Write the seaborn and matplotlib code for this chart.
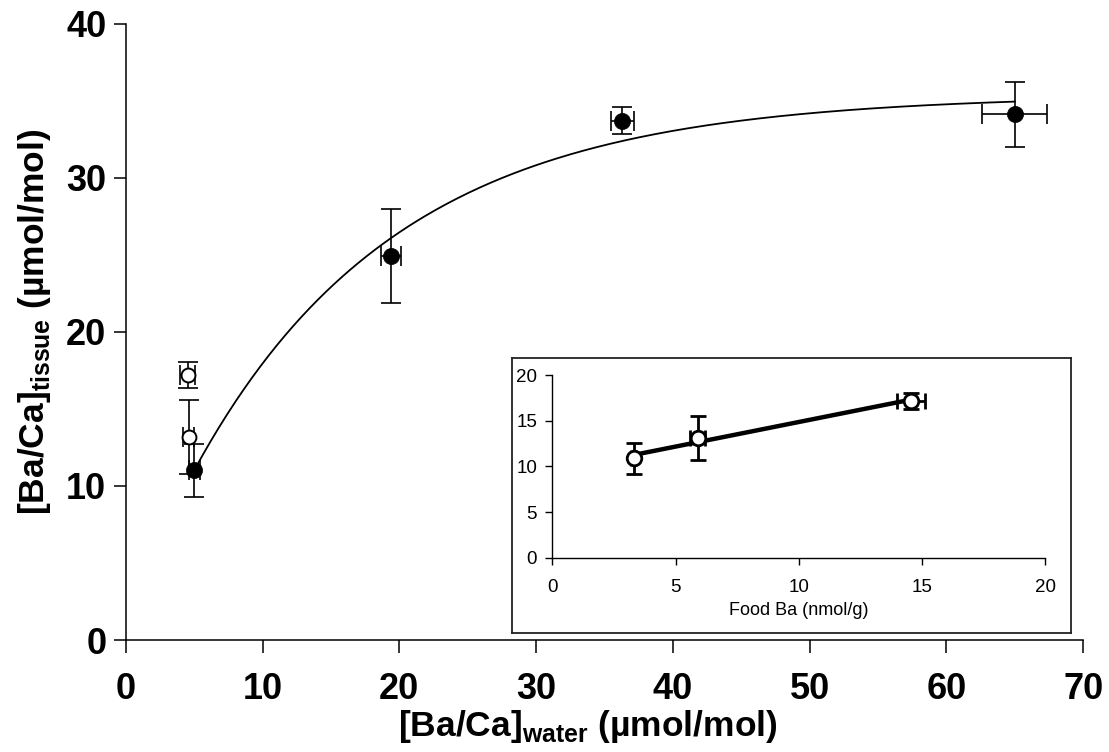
import numpy as np
import pandas as pd
import matplotlib
matplotlib.use("Agg")
import matplotlib.pyplot as plt
import seaborn as sns

# ---------------- data ----------------
water_filled = [5.0, 19.4, 36.3, 65.0]
tissue_filled = [11.0, 24.9, 33.7, 34.1]
tissue_filled_yerr = [1.7, 3.05, 0.9, 2.1]
water_filled_xerr = [0.4, 0.73, 0.85, 2.37]

water_open = [4.6, 4.55]
tissue_open = [13.2, 17.2]
tissue_open_yerr = [2.4, 0.86]
water_open_xerr = [0.4, 0.55]

# saturating fit curve shown in the main panel: y = a - b*exp(-k x)
fit_a, fit_b, fit_k = 35.37, 34.07, 0.067
fit_x_range = [5.0, 65.0]

food_ba = [3.3, 5.9, 14.55]
food_ba_xerr = [0.1, 0.3, 0.56]
tissue_food = [10.9, 13.1, 17.2]
tissue_food_yerr = [1.7, 2.4, 0.88]

main_xticks = [0, 10, 20, 30, 40, 50, 60, 70]
main_yticks = [0, 10, 20, 30, 40]
inset_xticks = [0, 5, 10, 15, 20]
inset_yticks = [0, 5, 10, 15, 20]

# ---------------- style ----------------
sns.set_theme(style="ticks")
plt.rcParams["font.family"] = ["Liberation Sans", "DejaVu Sans"]
plt.rcParams["mathtext.fontset"] = "custom"
plt.rcParams["mathtext.rm"] = "Liberation Sans"
plt.rcParams["mathtext.bf"] = "Liberation Sans:bold"
plt.rcParams["axes.linewidth"] = 1.1

W, H = 1109, 752
fig = plt.figure(figsize=(W / 100, H / 100), dpi=100)
fig.patch.set_facecolor("white")

def fx(px):
    return px / W

def fy(py):
    return (H - py) / H

# main axes: x 0 at 125.7 px, 70 at 1083.3 px; y 0 at 640, 40 at 23.5
ax = fig.add_axes([fx(125.7), fy(640), fx(1083.3) - fx(125.7), fy(23.5) - fy(640)])
ax.set_facecolor("white")

df_filled = pd.DataFrame({"water": water_filled, "tissue": tissue_filled})
df_open = pd.DataFrame({"water": water_open, "tissue": tissue_open})

xs = np.linspace(fit_x_range[0], fit_x_range[1], 300)
df_fit = pd.DataFrame({"water": xs, "tissue": fit_a - fit_b * np.exp(-fit_k * xs)})
sns.lineplot(data=df_fit, x="water", y="tissue", ax=ax, color="black", lw=1.3, zorder=2)

ax.errorbar(water_open, tissue_open, yerr=tissue_open_yerr, xerr=water_open_xerr,
            fmt="none", ecolor="black", elinewidth=1.2, capsize=7.5, capthick=1.2, zorder=3)
ax.errorbar(water_filled, tissue_filled, yerr=tissue_filled_yerr, xerr=water_filled_xerr,
            fmt="none", ecolor="black", elinewidth=1.2, capsize=7.5, capthick=1.2, zorder=3)

sns.scatterplot(data=df_open, x="water", y="tissue", ax=ax, marker="o", s=100,
                facecolor="white", edgecolor="black", linewidth=1.4, zorder=4)
sns.scatterplot(data=df_filled, x="water", y="tissue", ax=ax, marker="o", s=135,
                color="black", edgecolor="black", linewidth=0.5, zorder=4)

ax.set_xlim(0, 70)
ax.set_ylim(0, 40)
ax.set_xticks(main_xticks)
ax.set_yticks(main_yticks)
ax.tick_params(axis="x", direction="out", length=9, width=1.1, pad=14,
               labelsize=26, colors="black")
ax.tick_params(axis="y", direction="out", length=9, width=1.1, pad=5,
               labelsize=26, colors="black")
for lab in ax.get_xticklabels() + ax.get_yticklabels():
    lab.set_fontweight("bold")
for s in ["top", "right"]:
    ax.spines[s].set_visible(False)
for s in ["left", "bottom"]:
    ax.spines[s].set_color("black")
    ax.spines[s].set_linewidth(1.1)

ax.set_xlabel(r"[Ba/Ca]$_{\mathbf{water}}$ (µmol/mol)", fontsize=25.5,
              fontweight="bold", color="black")
ax.xaxis.set_label_coords((588 - 125.7) / 957.6, (640 - 708) / 616.5)
ax.xaxis.label.set_va("top")
ax.set_ylabel(r"[Ba/Ca]$_{\mathbf{tissue}}$ (µmol/mol)", fontsize=25.5,
              fontweight="bold", color="black")
ax.yaxis.set_label_coords((53 - 125.7) / 957.6, (640 - 322) / 616.5)

# ---------------- inset frame ----------------
frame = fig.add_axes([fx(512), fy(633), fx(1071) - fx(512), fy(358) - fy(633)])
frame.set_facecolor("white")
frame.set_xticks([])
frame.set_yticks([])
for s in frame.spines.values():
    s.set_visible(True)
    s.set_color("#222222")
    s.set_linewidth(1.3)
frame.set_zorder(5)

# ---------------- inset axes ----------------
ins = fig.add_axes([fx(552.3), fy(557.7), fx(1045.3) - fx(552.3), fy(375) - fy(557.7)])
ins.set_zorder(6)
ins.patch.set_alpha(0)

coef = np.polyfit(food_ba, tissue_food, 1)
lx = np.array([min(food_ba), max(food_ba)])
df_line = pd.DataFrame({"food": lx, "tissue": np.polyval(coef, lx)})
sns.lineplot(data=df_line, x="food", y="tissue", ax=ins, color="black", lw=3.2, zorder=2)

ins.errorbar(food_ba, tissue_food, yerr=tissue_food_yerr, xerr=food_ba_xerr,
             fmt="none", ecolor="black", elinewidth=2.0, capsize=5.8, capthick=2.0, zorder=3)
df_food = pd.DataFrame({"food": food_ba, "tissue": tissue_food})
sns.scatterplot(data=df_food, x="food", y="tissue", ax=ins, marker="o", s=110,
                facecolor="white", edgecolor="black", linewidth=2.0, zorder=4)

ins.set_xlim(0, 20)
ins.set_ylim(0, 20)
ins.set_xticks(inset_xticks)
ins.set_yticks(inset_yticks)
ins.tick_params(axis="x", direction="out", length=5, width=1.0, pad=10,
                labelsize=13.5, colors="black")
ins.tick_params(axis="y", direction="out", length=5, width=1.0, pad=6,
                labelsize=13.5, colors="black")
for s in ["top", "right"]:
    ins.spines[s].set_visible(False)
for s in ["left", "bottom"]:
    ins.spines[s].set_color("black")
    ins.spines[s].set_linewidth(1.0)
ins.set_xlabel("Food Ba (nmol/g)", fontsize=13, labelpad=5, color="black")
ins.set_ylabel("")

fig.savefig("out.png", dpi=100, facecolor="white")
